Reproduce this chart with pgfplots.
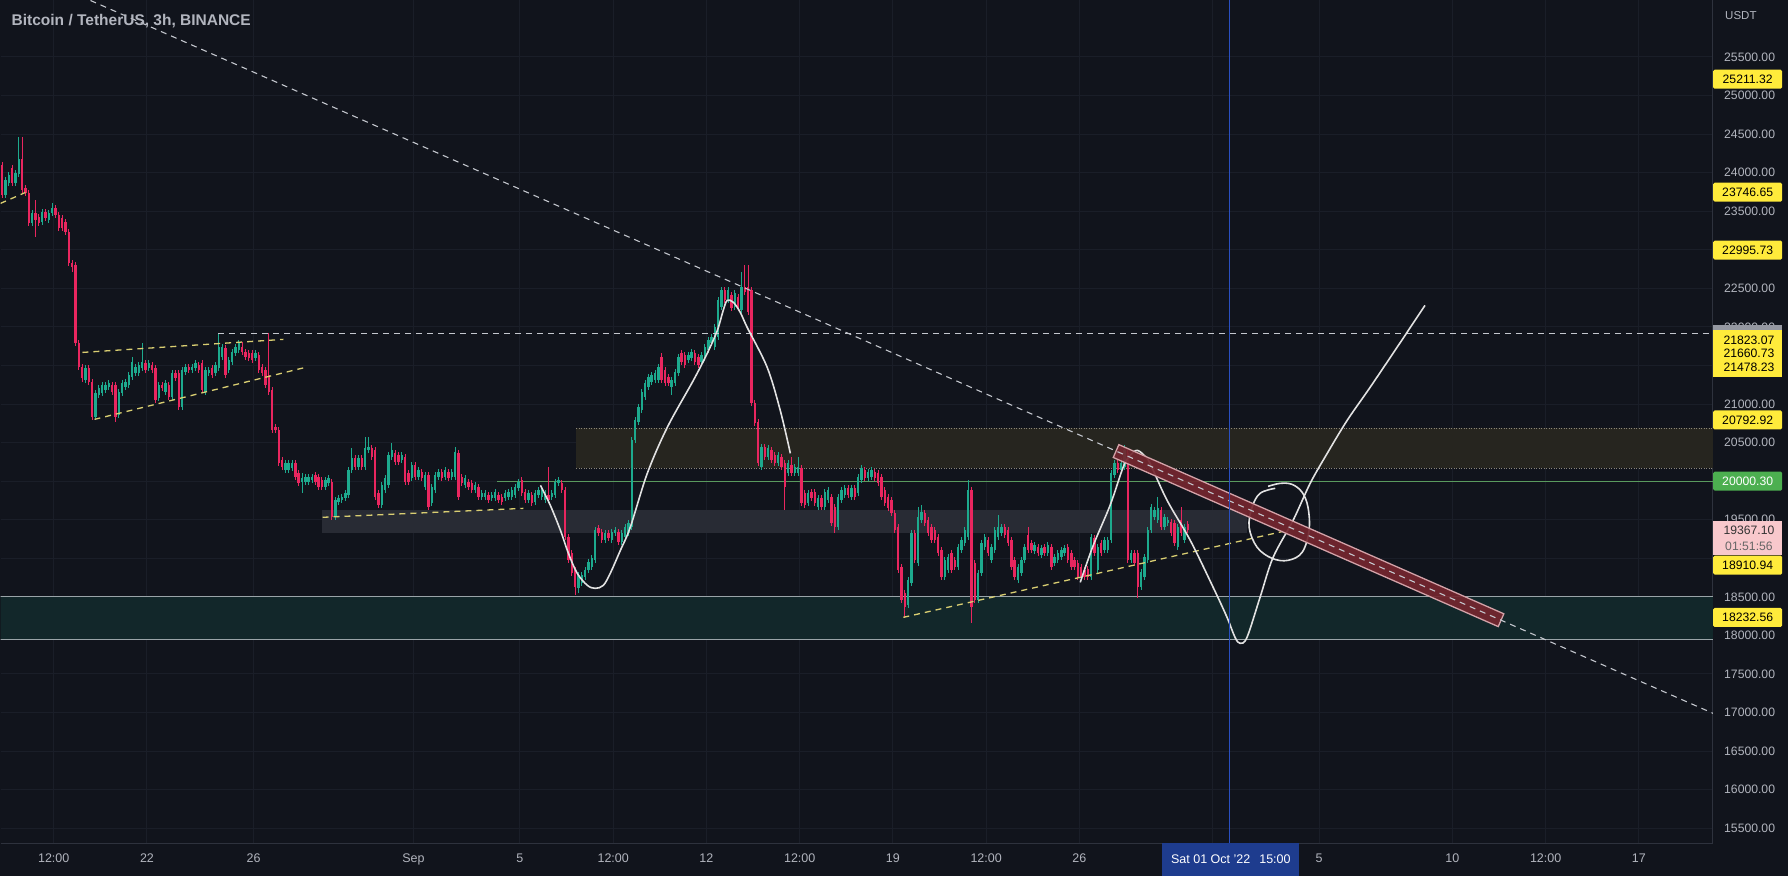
\documentclass[border=0pt]{standalone}
\usepackage{fontspec}
\setmainfont{Liberation Sans}
\usepackage{pgfplots}
\usepackage{pgfplotstable}
\pgfplotsset{compat=1.18}
\definecolor{bg}{HTML}{11141C}
\definecolor{gridc}{HTML}{1A1E28}
\definecolor{txt}{HTML}{B2B5BE}
\definecolor{upc}{HTML}{1DAA8E}
\definecolor{dnc}{HTML}{E9265F}
\definecolor{sep}{HTML}{2E323D}
\definecolor{tagy}{HTML}{FFEB3B}
\definecolor{tagg}{HTML}{4CAF50}
\definecolor{tagp}{HTML}{F8C8CC}
\definecolor{grtag}{HTML}{9598A1}
\definecolor{olive}{HTML}{26251F}
\definecolor{oliveb}{HTML}{8C877A}
\definecolor{grayz}{HTML}{282B34}
\definecolor{tealz}{HTML}{12272A}
\definecolor{tealb}{HTML}{9AA4A8}
\definecolor{yel}{HTML}{D9CE72}
\definecolor{dashc}{HTML}{C4C7CE}
\definecolor{bandf}{HTML}{74262F}
\definecolor{bandb}{HTML}{D3A2A8}
\definecolor{blu}{HTML}{2A4FC0}
\definecolor{datebox}{HTML}{1E3C8E}
\definecolor{greenl}{HTML}{5A9A5E}
\definecolor{brush}{HTML}{E2E2E2}

\pgfplotstableread{
o h l c
24093 24132 23666 23705
23705 23938 23666 23899
23860 24003 23821 23964
24055 24093 23821 23860
23860 24029 23821 23990
23977 24456 23938 24171
24171 24456 23730 23769
23795 23834 23692 23730
23730 23769 23303 23342
23342 23510 23303 23471
23471 23640 23160 23380
23419 23458 23303 23342
23354 23523 23316 23484
23484 23523 23367 23406
23380 23510 23342 23471
23471 23601 23432 23536
23536 23575 23406 23445
23445 23484 23238 23277
23406 23445 23238 23277
23354 23393 23186 23225
23225 23264 22784 22823
22823 22862 22706 22771
22797 22836 21747 21786
21786 21825 21436 21475
21475 21514 21281 21333
21307 21501 21268 21462
21462 21501 21242 21281
21281 21320 20788 20827
20827 21177 20788 21138
21112 21242 21073 21203
21138 21281 21099 21242
21177 21281 21138 21242
21216 21307 21177 21268
21242 21281 21112 21151
21242 21281 20762 20827
20853 21190 20814 21151
21138 21307 21099 21268
21216 21320 21177 21281
21242 21410 21203 21371
21346 21605 21307 21540
21397 21514 21358 21475
21397 21540 21358 21501
21462 21786 21423 21540
21527 21566 21397 21436
21462 21566 21423 21527
21501 21540 21397 21436
21462 21501 21008 21047
21073 21281 21034 21242
21242 21281 21164 21203
21151 21307 21112 21268
21242 21281 21047 21086
21086 21436 21047 21397
21397 21436 21294 21333
21397 21436 20918 20956
20956 21475 20918 21436
21410 21514 21371 21475
21475 21514 21397 21436
21436 21514 21397 21475
21462 21566 21423 21527
21501 21540 21397 21436
21527 21566 21138 21177
21151 21475 21112 21436
21397 21475 21358 21436
21462 21501 21333 21371
21397 21540 21358 21501
21462 21916 21423 21734
21605 21773 21566 21734
21721 21760 21333 21371
21436 21605 21397 21566
21540 21708 21501 21670
21657 21773 21618 21734
21695 21825 21657 21786
21734 21799 21631 21670
21670 21708 21566 21605
21657 21695 21553 21592
21657 21695 21527 21566
21592 21695 21553 21657
21631 21670 21397 21436
21475 21514 21358 21397
21436 21475 21203 21242
21371 21916 21112 21151
21177 21216 20620 20659
20697 20736 20620 20659
20659 20697 20192 20231
20270 20308 20140 20179
20140 20270 20101 20231
20140 20270 20101 20231
20166 20270 20127 20231
20231 20270 20010 20049
20101 20140 19932 19971
19984 20101 19842 20036
19984 20088 19945 20049
19984 20088 19945 20049
20010 20088 19971 20049
20075 20114 19945 19984
20049 20088 19881 19919
20010 20049 19881 19919
19919 20049 19881 20010
19971 20075 19932 20036
19984 20023 19492 19531
19531 19790 19492 19751
19725 19816 19686 19777
19751 19829 19712 19790
19777 19881 19738 19842
19816 20179 19777 20140
20140 20425 20101 20295
20295 20334 20140 20179
20179 20334 20140 20295
20295 20334 20140 20179
20179 20568 20140 20425
20399 20568 20360 20438
20425 20464 20270 20308
20399 20438 19751 19790
19842 19881 19647 19686
19686 19984 19647 19945
19881 20075 19842 20036
19945 20373 19906 20334
20308 20490 20270 20399
20360 20399 20205 20244
20334 20373 20205 20244
20270 20373 20231 20334
20308 20347 19945 19984
20101 20140 19945 19984
20036 20244 19997 20205
20205 20244 20010 20049
20049 20179 20010 20140
20114 20153 19997 20036
19919 20114 19881 20075
20075 20114 19621 19660
19712 19958 19673 19919
19881 20114 19842 20075
20049 20153 20010 20114
20114 20153 19997 20036
20049 20179 20010 20140
20114 20153 19997 20036
20049 20153 20010 20114
20049 20438 20010 20373
20360 20399 19751 19790
20049 20088 19932 19971
19945 20075 19906 20036
19984 20023 19881 19919
19971 20010 19842 19881
19881 19984 19842 19945
19919 19958 19751 19790
19790 19881 19751 19842
19790 19881 19751 19842
19816 19855 19712 19751
19777 19855 19738 19816
19777 19894 19738 19855
19816 19855 19712 19751
19790 19829 19686 19725
19777 19881 19738 19842
19790 19894 19751 19855
19790 19920 19751 19881
19816 19958 19777 19919
19906 20023 19867 19984
20010 20049 19803 19842
19855 19894 19712 19751
19751 19881 19712 19842
19816 19855 19673 19712
19725 19881 19686 19842
19816 19920 19777 19881
19790 19920 19751 19881
19751 19881 19712 19842
19816 20179 19712 19751
19790 19881 19751 19842
19816 20023 19777 19984
19971 20049 19932 20010
19971 20010 19842 19881
19881 19920 19232 19271
19271 19310 18934 18973
19064 19103 18766 18805
18844 18883 18520 18623
18610 18818 18546 18779
18675 18818 18636 18779
18753 18883 18714 18844
18844 18986 18805 18947
18882 19038 18844 18999
18973 19401 18934 19362
19388 19427 19284 19323
19336 19375 19193 19232
19232 19362 19193 19323
19323 19362 19219 19258
19232 19375 19193 19336
19323 19401 19284 19362
19336 19375 19167 19206
19206 19362 19167 19323
19271 19440 19232 19401
19323 19492 19284 19453
19401 20568 19362 20529
20529 20827 20490 20788
20762 20995 20723 20956
20918 21190 20879 21151
21086 21307 21047 21268
21216 21385 21177 21346
21281 21410 21242 21371
21307 21436 21268 21397
21307 21514 21268 21475
21605 21657 21268 21307
21436 21475 21229 21268
21346 21385 21229 21268
21216 21346 21112 21307
21268 21449 21229 21410
21397 21644 21358 21605
21657 21695 21501 21540
21631 21670 21462 21501
21566 21670 21527 21631
21592 21708 21553 21670
21657 21695 21501 21540
21605 21644 21462 21501
21540 21670 21501 21631
21592 21773 21553 21734
21695 21864 21657 21825
21786 21903 21747 21864
21734 22032 21695 21993
21864 22383 21825 22344
22253 22512 22214 22473
22473 22512 22305 22344
22344 22512 22305 22473
22408 22447 22201 22240
22253 22473 22214 22434
22382 22421 22201 22240
22214 22706 22175 22512
22512 22797 22408 22447
22512 22797 22149 22188
22473 22512 20969 21008
21008 21047 20710 20749
20762 20801 20192 20231
20179 20477 20140 20438
20438 20477 20270 20308
20308 20464 20270 20425
20399 20438 20231 20270
20334 20373 20192 20231
20231 20373 20192 20334
20308 20347 20140 20179
20231 20270 19621 19919
20101 20270 20062 20231
20205 20308 20062 20101
20101 20218 20062 20179
20101 20308 20062 20179
20166 20205 19673 19712
19842 19881 19647 19686
19712 19881 19673 19842
19855 19894 19738 19777
19855 19894 19673 19712
19660 19816 19621 19777
19777 19816 19621 19660
19660 19894 19621 19855
19751 19920 19712 19881
19790 19829 19414 19453
19660 19699 19323 19401
19401 19829 19362 19790
19751 19920 19712 19881
19816 19945 19777 19906
19906 19945 19777 19816
19790 19945 19751 19906
19906 19945 19751 19790
19842 20088 19803 20049
20010 20205 19971 20166
20140 20179 19997 20036
20036 20153 19997 20114
20049 20179 20010 20140
20114 20153 19997 20036
20101 20140 19932 19971
20049 20088 19751 19790
19881 19920 19673 19712
19790 19829 19608 19647
19751 19790 19543 19582
19582 19621 19323 19362
19401 19440 18805 18844
18882 18921 18416 18455
18546 18585 18222 18364
18390 18753 18351 18714
18675 19362 18636 19323
19323 19362 18934 18973
18934 19660 18895 19531
19492 19686 19453 19595
19582 19621 19414 19453
19492 19531 19284 19323
19401 19440 19193 19232
19362 19401 19193 19232
19271 19310 19025 19064
19103 19142 18714 18753
18753 19012 18714 18973
18844 19051 18805 19012
19064 19103 18805 18844
18973 19012 18844 18882
18882 19181 18844 19142
19103 19271 19064 19232
19194 19401 19155 19362
19271 20010 19232 19881
19881 19920 18157 18364
18934 18973 18416 18455
18455 18844 18416 18805
18805 19233 18766 19194
19142 19310 19103 19271
19232 19271 19025 19064
18973 19181 18934 19142
19103 19401 19064 19362
19271 19557 19232 19401
19323 19440 19284 19401
19401 19440 19258 19297
19362 19401 19155 19194
19232 19271 18844 18882
18973 19012 18714 18753
18714 18921 18675 18882
18805 19012 18766 18973
18973 19181 18934 19142
19297 19401 19064 19103
19194 19233 19064 19103
19090 19207 19051 19168
19142 19181 19025 19064
19038 19168 18999 19129
19142 19181 19025 19064
19064 19207 19025 19168
19142 19181 18844 18882
18934 19051 18895 19012
18973 19103 18934 19064
19012 19142 18973 19103
19064 19168 19025 19129
19142 19181 18934 18973
19064 19103 18844 18882
18973 19012 18844 18882
18934 18973 18714 18753
18882 18921 18714 18753
18844 18883 18714 18753
18857 18896 18714 18753
18753 19310 18714 19271
19258 19297 19025 19064
18844 19181 18805 19142
19194 19233 19025 19064
19103 19271 19064 19232
19103 19271 19064 19232
19232 20140 19193 20101
20075 20270 20036 20231
20231 20270 20101 20140
20140 20295 20101 20231
20179 20464 20140 20399
20360 20399 18934 18973
18973 19103 18934 19064
19064 19103 18895 18934
19064 19103 18481 18623
18623 18857 18584 18818
18753 19051 18714 19012
18973 19401 18934 19362
19362 19699 19323 19660
19531 19660 19492 19621
19492 19790 19453 19647
19621 19660 19362 19401
19401 19570 19362 19531
19453 19531 19414 19492
19466 19505 19284 19323
19453 19492 19155 19194
19142 19440 19103 19401
19492 19660 19284 19323
19232 19440 19193 19401
19450 19480 19330 19367
}\candles

\begin{document}
\begin{tikzpicture}[x=1pt,y=1pt]
\fill[bg] (0pt,0pt) rectangle (1788pt,876pt);
\begin{axis}[
  at={(0pt,33pt)}, anchor=south west,
  width=1713pt, height=843pt, scale only axis,
  xmin=-15.497, xmax=48.78, ymin=15305, ymax=26232,
  axis x line*=bottom, axis y line*=right,
  axis line style={-, draw=sep, line width=1pt},
  x axis line style={-}, y axis line style={-},
  major tick length=0pt,
  grid=major, grid style={draw=gridc, line width=1pt},
  xtick={-13.5,-10,-6,0,4,7.5,11,14.5,18,21.5,25,30,34,39,42.5,46},
  xticklabels={12:00,22,26,Sep,5,12:00,12,12:00,19,12:00,26,{},5,10,12:00,17},
  ytick={15500,16000,...,25500},
  yticklabels={15500.00,16000.00,16500.00,17000.00,17500.00,18000.00,18500.00,{},19500.00,{},20500.00,21000.00,{},22000.00,22500.00,{},23500.00,24000.00,24500.00,25000.00,25500.00},
  scaled y ticks=false, scaled x ticks=false,
  yticklabel style={anchor=west, xshift=11pt, inner sep=0pt, text=txt,
    font=\fontsize{12.2}{14}\selectfont},
  xticklabel style={anchor=base, yshift=-19pt, inner sep=0pt, text=txt,
    font=\fontsize{12.5}{14}\selectfont},
  clip mode=individual,
]
% zones
\addplot[fill=tealz, draw=none, forget plot] coordinates {(-16,17950) (50,17950) (50,18507) (-16,18507)} -- cycle;
\addplot[draw=tealb, line width=0.9pt, forget plot] coordinates {(-16,18507) (50,18507)};
\addplot[draw=tealb, line width=0.9pt, forget plot] coordinates {(-16,17950) (50,17950)};
\addplot[fill=olive, draw=none, forget plot] coordinates {(6.12,20166) (50,20166) (50,20685) (6.12,20685)} -- cycle;
\addplot[draw=oliveb, line width=0.9pt, dash pattern=on 1pt off 1.5pt, forget plot] coordinates {(6.12,20685) (50,20685)};
\addplot[draw=oliveb, line width=0.9pt, dash pattern=on 1pt off 1.5pt, forget plot] coordinates {(6.12,20166) (50,20166)};
\addplot[fill=grayz, draw=none, forget plot] coordinates {(-3.43,19323) (31.29,19323) (31.29,19621) (-3.43,19621)} -- cycle;
\addplot[draw=greenl, line width=1pt, forget plot] coordinates {(3.15,20000.3) (50,20000.3)};

% candles: wicks
\addplot[draw=none, forget plot, restrict y to domain=15000:27000,
  error bars/.cd, y dir=both, y explicit, error mark=none,
  error bar style={draw=upc, line width=1pt}]
  table[x expr=\coordindex*0.125-15.43,
        y expr={\thisrow{c}<\thisrow{o} ? 0 : (\thisrow{h}+\thisrow{l})/2},
        y error expr={(\thisrow{h}-\thisrow{l})/2}] {\candles};
\addplot[draw=none, forget plot, restrict y to domain=15000:27000,
  error bars/.cd, y dir=both, y explicit, error mark=none,
  error bar style={draw=dnc, line width=1pt}]
  table[x expr=\coordindex*0.125-15.43,
        y expr={\thisrow{c}<\thisrow{o} ? (\thisrow{h}+\thisrow{l})/2 : 0},
        y error expr={(\thisrow{h}-\thisrow{l})/2}] {\candles};
% candles: bodies
\addplot[draw=none, forget plot, restrict y to domain=15000:27000,
  error bars/.cd, y dir=both, y explicit, error mark=none,
  error bar style={draw=upc, line width=2.4pt}]
  table[x expr=\coordindex*0.125-15.43,
        y expr={\thisrow{c}<\thisrow{o} ? 0 : (\thisrow{o}+\thisrow{c})/2},
        y error expr={max(abs(\thisrow{c}-\thisrow{o})/2,6)}] {\candles};
\addplot[draw=none, forget plot, restrict y to domain=15000:27000,
  error bars/.cd, y dir=both, y explicit, error mark=none,
  error bar style={draw=dnc, line width=2.4pt}]
  table[x expr=\coordindex*0.125-15.43,
        y expr={\thisrow{c}<\thisrow{o} ? (\thisrow{o}+\thisrow{c})/2 : 0},
        y error expr={max(abs(\thisrow{c}-\thisrow{o})/2,6)}] {\candles};

% yellow dashed pattern lines
\addplot[draw=yel, line width=1.3pt, dash pattern=on 6pt off 5pt, forget plot] coordinates {(-12.42,21669) (-4.88,21838)};
\addplot[draw=yel, line width=1.3pt, dash pattern=on 6pt off 5pt, forget plot] coordinates {(-11.97,20801) (-4.05,21475)};
\addplot[draw=yel, line width=1.3pt, dash pattern=on 6pt off 5pt, forget plot] coordinates {(-15.5,23601) (-14.56,23743)};
\addplot[draw=yel, line width=1.3pt, dash pattern=on 6pt off 5pt, forget plot] coordinates {(-3.41,19531) (4.13,19647)};
\addplot[draw=yel, line width=1.3pt, dash pattern=on 6pt off 5pt, forget plot] coordinates {(18.39,18234) (32.65,19349)};
% horizontal dashed level
\addplot[draw=dashc, line width=1.1pt, dash pattern=on 6pt off 5pt, forget plot] coordinates {(-7.32,21916) (50,21916)};

% white brush curves
\addplot[draw=brush, line width=1.6pt, smooth, tension=0.55, forget plot] coordinates {
(4.77,19945) (5.14,19686) (5.52,19362) (5.82,19064) (6.15,18805) (6.53,18649) (6.83,18610)
(7.13,18649) (7.39,18805) (7.77,19103) (8.14,19401) (8.78,20101) (9.53,20697) (10.51,21307)
(11.03,21657) (11.41,21955) (11.63,22214) (11.78,22344) (12.01,22318) (12.27,22188)
(12.53,21993) (13.28,21475) (13.77,20918) (14.15,20360)};
\addplot[draw=brush, line width=1.6pt, smooth, tension=0.55, forget plot] coordinates {
(25.03,18688) (25.52,19168) (26.15,19686) (26.64,20179) (26.90,20334) (27.17,20399)
(27.47,20321) (27.65,20231) (28.29,19751) (29.16,19232) (30.02,18623) (30.54,18234)
(30.84,17975) (31.03,17897) (31.29,17975) (31.78,18494) (32.27,19012) (33.02,19492)
(33.66,19971) (34.30,20360) (35.05,20788) (35.91,21216) (36.92,21734) (37.52,22045) (37.97,22279)};
\addplot[draw=brush, line width=1.6pt, smooth, tension=0.6, forget plot] coordinates {
(32.35,19907) (31.78,19842) (31.48,19660) (31.37,19401) (31.67,19142) (32.23,18999)
(32.83,18973) (33.36,19077) (33.62,19362) (33.58,19660) (33.36,19855) (32.98,19958)
(32.53,19971) (32.08,19932)};

% red channel band
\addplot[fill=bandf, fill opacity=0.92, draw=bandb, line width=1.3pt, forget plot] coordinates {
(26.48,20473) (40.93,18280) (40.72,18114) (26.27,20307)} -- cycle;
% long dashed trendline
\addplot[draw=dashc, line width=1.1pt, dash pattern=on 6pt off 5pt, forget plot] coordinates {(-12.12,26232) (48.78,16990)};
% crosshair
\addplot[draw=blu, line width=1pt, forget plot] coordinates {(30.625,15305) (30.625,26232)};

% anchors for price tags
\coordinate (t1) at (axis cs:48.78,25211.32);
\coordinate (t2) at (axis cs:48.78,23746.65);
\coordinate (t3) at (axis cs:48.78,22995.73);
\coordinate (t4) at (axis cs:48.78,20792.92);
\coordinate (t5) at (axis cs:48.78,20000.30);
\coordinate (t6) at (axis cs:48.78,18910.94);
\coordinate (t7) at (axis cs:48.78,18232.56);
\coordinate (gr1) at (axis cs:48.78,22019);
\coordinate (gr2) at (axis cs:48.78,21786);
\coordinate (gt) at (axis cs:48.78,21955);
\coordinate (gb) at (axis cs:48.78,21346);
\coordinate (q1) at (axis cs:48.78,21823.07);
\coordinate (q2) at (axis cs:48.78,21660.73);
\coordinate (q3) at (axis cs:48.78,21478.23);
\coordinate (pk1) at (axis cs:48.78,19479);
\coordinate (pk2) at (axis cs:48.78,19038);
\coordinate (pq1) at (axis cs:48.78,19362);
\coordinate (pq2) at (axis cs:48.78,19155);
\end{axis}

\tikzset{tag/.style={anchor=west, minimum width=69pt, minimum height=19pt, inner sep=0pt,
  font=\fontsize{12.2}{14}\selectfont, rounded corners=1.5pt}}
\node[tag, fill=tagy, text=black] at (t1) {25211.32};
\node[tag, fill=tagy, text=black] at (t2) {23746.65};
\node[tag, fill=tagy, text=black] at (t3) {22995.73};
\fill[grtag] (gr1) rectangle ([xshift=69pt]gr2);
\fill[tagy] (gt) rectangle ([xshift=69pt]gb);
\node[font=\fontsize{12.2}{14}\selectfont, text=black, inner sep=0pt] at ([xshift=36pt]q1) {21823.07};
\node[font=\fontsize{12.2}{14}\selectfont, text=black, inner sep=0pt] at ([xshift=36pt]q2) {21660.73};
\node[font=\fontsize{12.2}{14}\selectfont, text=black, inner sep=0pt] at ([xshift=36pt]q3) {21478.23};
\node[tag, fill=tagy, text=black] at (t4) {20792.92};
\node[tag, fill=tagg, text=white] at (t5) {20000.30};
\fill[tagp] (pk1) rectangle ([xshift=69pt]pk2);
\node[font=\fontsize{12.2}{14}\selectfont, text={black!80}, inner sep=0pt] at ([xshift=36pt]pq1) {19367.10};
\node[font=\fontsize{12.2}{14}\selectfont, text={black!60}, inner sep=0pt] at ([xshift=36pt]pq2) {01:51:56};
\node[tag, fill=tagy, text=black] at (t6) {18910.94};
\node[tag, fill=tagy, text=black] at (t7) {18232.56};

% date box
\node[fill=datebox, text=white, minimum width=137pt, minimum height=33pt, inner sep=0pt,
  anchor=south west, font=\fontsize{12.5}{14}\selectfont] at (1162pt,0pt) {Sat 01 Oct '22\hspace{9pt}15:00};
% title and unit
\node[anchor=west, text=txt, font=\bfseries\fontsize{15.5}{18}\selectfont, inner sep=0pt] at (11pt,855pt) {Bitcoin / TetherUS, 3h, BINANCE};
\node[anchor=west, text=txt, font=\fontsize{11.5}{13}\selectfont, inner sep=0pt] at (1725pt,861pt) {USDT};
\end{tikzpicture}
\end{document}
